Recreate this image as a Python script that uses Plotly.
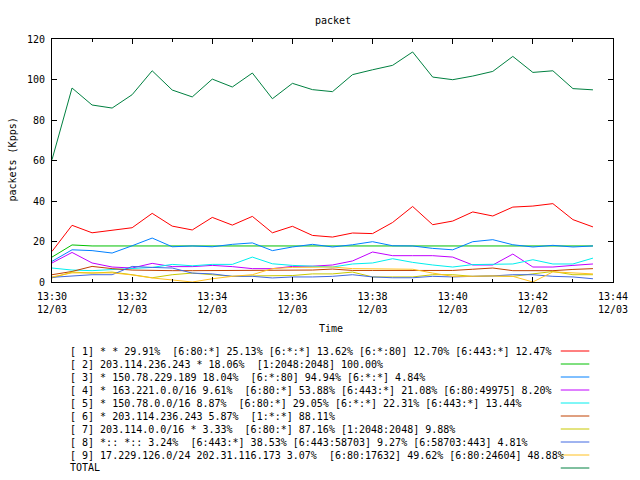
import plotly.graph_objects as go
import pandas as pd

# ---- data ----
start_time = "2023-12-03 13:30:00"
n_points = 28
times = pd.date_range(start_time, periods=n_points, freq="30s")

s1 = [15.1, 28.0, 24.3, 25.5, 26.8, 33.9, 27.6, 25.7, 31.9, 28.1, 32.4, 24.3, 27.5, 23.0,
      22.2, 24.2, 23.9, 29.4, 37.3, 28.3, 30.1, 34.6, 32.6, 37.0, 37.5, 38.7, 30.8, 27.2]
s2 = [12.3, 18.3, 17.8, 17.8, 17.8, 17.8, 17.8, 17.8, 17.8, 17.8, 17.8, 17.8, 17.8, 17.8,
      17.8, 17.8, 17.8, 17.8, 17.8, 17.8, 17.8, 17.8, 17.8, 17.8, 17.8, 17.8, 17.8, 17.8]
s3 = [10.2, 15.9, 15.5, 14.3, 17.9, 21.7, 17.4, 17.8, 17.4, 18.6, 19.3, 15.5, 17.3, 18.6,
      17.3, 18.4, 19.9, 17.9, 17.8, 16.6, 15.9, 19.9, 20.9, 18.4, 17.3, 18.1, 17.3, 17.8]
s4 = [9.4, 14.6, 9.4, 7.4, 6.9, 9.2, 7.6, 7.6, 8.2, 7.6, 6.6, 6.6, 7.7, 7.8,
      8.4, 10.4, 14.8, 13.0, 13.0, 13.0, 12.3, 8.4, 8.4, 13.8, 7.4, 7.4, 8.2, 8.9]
s5 = [6.9, 5.9, 5.6, 6.1, 6.6, 7.2, 8.7, 8.0, 8.7, 8.7, 12.3, 9.0, 8.2, 7.9,
      7.4, 8.9, 9.4, 11.5, 9.7, 8.4, 7.4, 8.6, 8.9, 8.9, 11.0, 8.9, 8.9, 11.8]
s6 = [3.6, 5.2, 7.7, 6.6, 5.9, 5.6, 5.6, 5.6, 5.6, 5.6, 5.6, 5.6, 5.6, 5.9,
      6.4, 5.7, 5.7, 5.7, 5.9, 5.7, 5.7, 6.3, 6.9, 5.6, 5.6, 5.6, 6.2, 6.6]
s7 = [2.0, 4.9, 4.4, 4.9, 3.6, 2.1, 3.6, 4.4, 3.6, 2.8, 3.0, 3.0, 3.2, 4.0,
      4.0, 4.9, 2.5, 2.5, 2.5, 3.6, 3.6, 2.8, 3.0, 2.8, 4.0, 5.2, 3.6, 3.6]
s8 = [2.3, 3.0, 3.6, 3.6, 7.7, 7.2, 6.9, 4.4, 4.0, 2.8, 2.8, 2.0, 2.5, 2.5,
      2.8, 3.6, 2.5, 2.1, 2.1, 2.8, 2.5, 2.8, 3.0, 3.6, 3.6, 2.8, 2.5, 1.6]
s9 = [2.5, 4.5, 4.5, 4.5, 3.5, 2.0, 1.0, 0.0, 1.6, 2.8, 3.6, 6.6, 7.2, 7.4,
      7.4, 6.6, 6.6, 6.6, 6.3, 4.4, 2.8, 2.8, 3.0, 2.8, 0.0, 5.0, 4.5, 4.0]
total = [60.4, 95.8, 87.4, 85.9, 92.5, 104.3, 94.8, 91.4, 100.2, 96.3, 103.2, 90.5, 98.1, 95.0,
         94.0, 102.4, 104.8, 107.0, 113.6, 101.2, 99.9, 101.7, 104.0, 111.4, 103.5, 104.3, 95.5, 94.9]

series_values = [s1, s2, s3, s4, s5, s6, s7, s8, s9, total]
series_labels = [
    "[ 1] * * 29.91%  [6:80:*] 25.13% [6:*:*] 13.62% [6:*:80] 12.70% [6:443:*] 12.47%",
    "[ 2] 203.114.236.243 * 18.06%  [1:2048:2048] 100.00%",
    "[ 3] * 150.78.229.189 18.04%  [6:*:80] 94.94% [6:*:*] 4.84%",
    "[ 4] * 163.221.0.0/16 9.61%  [6:80:*] 53.88% [6:443:*] 21.08% [6:80:49975] 8.20%",
    "[ 5] * 150.78.0.0/16 8.87%  [6:80:*] 29.05% [6:*:*] 22.31% [6:443:*] 13.44%",
    "[ 6] * 203.114.236.243 5.87%  [1:*:*] 88.11%",
    "[ 7] 203.114.0.0/16 * 3.33%  [6:80:*] 87.16% [1:2048:2048] 9.88%",
    "[ 8] *:: *:: 3.24%  [6:443:*] 38.53% [6:443:58703] 9.27% [6:58703:443] 4.81%",
    "[ 9] 17.229.126.0/24 202.31.116.173 3.07%  [6:80:17632] 49.62% [6:80:24604] 48.88%",
    "TOTAL",
]
series_colors = ["#ff0000", "#00c000", "#0080ff", "#c000ff", "#00eeee",
                 "#c04000", "#c8c800", "#4169e1", "#ffc020", "#008040"]

x_range = ["2023-12-03 13:30:00", "2023-12-03 13:44:00"]
tick_vals = ["2023-12-03 13:30:00", "2023-12-03 13:32:00", "2023-12-03 13:34:00",
             "2023-12-03 13:36:00", "2023-12-03 13:38:00", "2023-12-03 13:40:00",
             "2023-12-03 13:42:00", "2023-12-03 13:44:00"]
tick_text = ["13:30<br>12/03", "13:32<br>12/03", "13:34<br>12/03", "13:36<br>12/03",
             "13:38<br>12/03", "13:40<br>12/03", "13:42<br>12/03", "13:44<br>12/03"]

# ---- layout constants (pixels) ----
W, H = 640, 480
L, R, T, B = 52, 19, 39, 198
FONT = dict(family="DejaVu Sans Mono", size=10, color="black")

def px_x(x):
    return (x - L) / (W - L - R)

def px_y(y):
    return (H - B - y) / (H - T - B)

fig = go.Figure()
for vals, name, col in zip(series_values, series_labels, series_colors):
    fig.add_trace(go.Scatter(x=times, y=vals, mode="lines", name=name,
                             line=dict(color=col, width=1), showlegend=False))

annotations = []
shapes = []
for i, (name, col) in enumerate(zip(series_labels, series_colors)):
    yy = 351 + 13 * i
    annotations.append(dict(text=name.replace(" ", "\u00a0"), xref="paper", yref="paper",
                            x=px_x(68), y=px_y(yy), xanchor="left", yanchor="middle",
                            showarrow=False, font=FONT))
    shapes.append(dict(type="line", xref="paper", yref="paper",
                       x0=px_x(568), x1=px_x(597), y0=px_y(yy), y1=px_y(yy),
                       line=dict(color=col, width=1)))

annotations.append(dict(text="packet", xref="paper", yref="paper", x=0.5, y=px_y(20),
                        xanchor="center", yanchor="middle", showarrow=False, font=FONT))
annotations.append(dict(text="Time", xref="paper", yref="paper", x=px_x(335), y=px_y(328),
                        xanchor="center", yanchor="middle", showarrow=False, font=FONT))
annotations.append(dict(text="packets (Kpps)", xref="paper", yref="paper", x=px_x(11),
                        y=px_y(160), xanchor="center", yanchor="middle", textangle=-90,
                        showarrow=False, font=FONT))

fig.update_layout(
    width=W, height=H,
    margin=dict(l=L, r=R, t=T, b=B, pad=0),
    paper_bgcolor="white", plot_bgcolor="white",
    font=FONT,
    annotations=annotations, shapes=shapes,
    showlegend=False,
)
fig.update_xaxes(type="date", range=x_range, tickvals=tick_vals, ticktext=tick_text,
                 showgrid=False, zeroline=False, showline=True, linecolor="black",
                 linewidth=1, mirror="ticks", ticks="inside", ticklen=5, tickcolor="black",
                 tickfont=FONT, ticklabelstandoff=5,
                 minor=dict(dtick=60000, tick0="2023-12-03 13:30:00", ticks="inside",
                            ticklen=3, tickcolor="black", showgrid=False))
fig.update_yaxes(range=[0, 120], dtick=20, tick0=0, showgrid=False, zeroline=False,
                 showline=True, linecolor="black", linewidth=1, mirror="ticks",
                 ticks="inside", ticklen=5, tickcolor="black", tickfont=FONT,
                 ticklabelstandoff=4)

fig.write_html("out.html", config={"displayModeBar": False},
               post_script="document.body.style.margin='0';")
